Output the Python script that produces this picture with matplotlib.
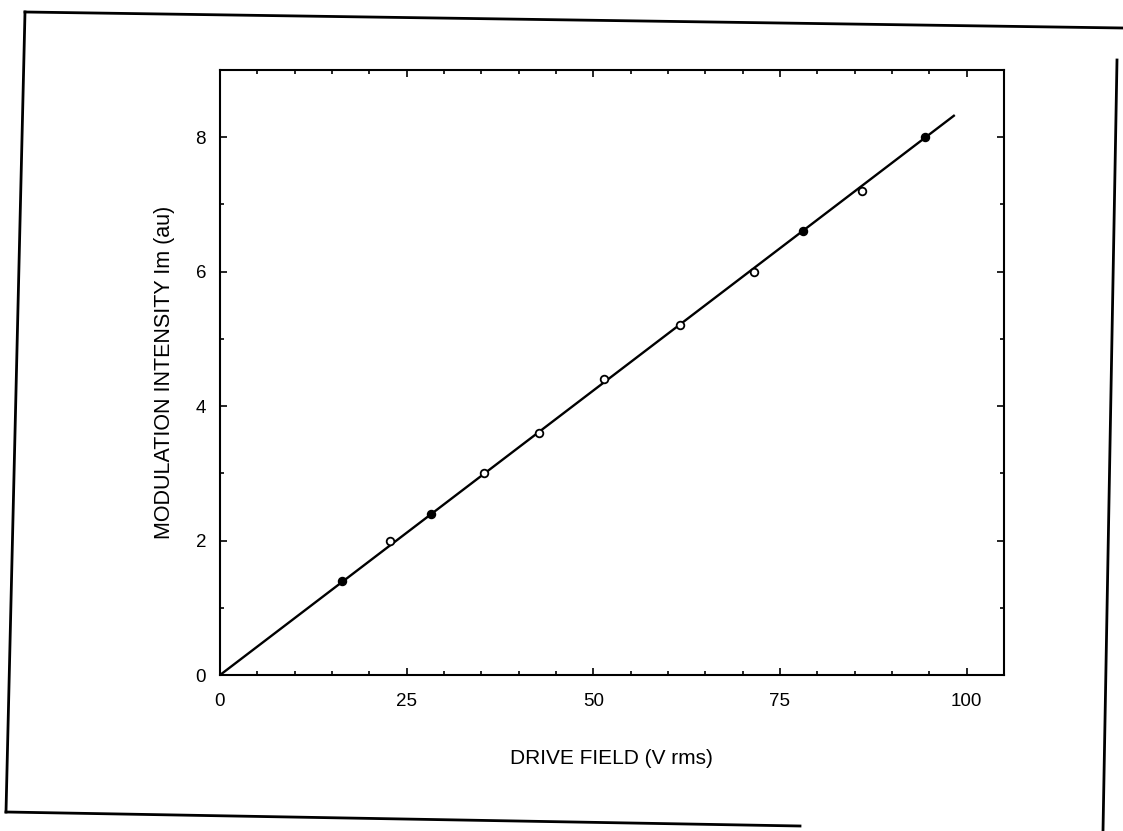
import matplotlib
matplotlib.use("Agg")
import matplotlib.pyplot as plt
from matplotlib.lines import Line2D

# measured points (drive field V rms, modulation intensity au)
field_filled = [16.3, 28.2, 78.1, 94.5]
intensity_filled = [1.40, 2.40, 6.60, 8.00]

field_open = [22.8, 35.3, 42.7, 51.5, 61.6, 71.5, 86.0]
intensity_open = [2.00, 3.00, 3.60, 4.40, 5.20, 6.00, 7.20]

# straight-line fit through the origin
fit_field = [0.0, 98.3]
fit_intensity = [0.0, 8.32]

x_ticks = [0, 25, 50, 75, 100]
y_ticks = [0, 2, 4, 6, 8]

plt.rcParams["font.family"] = ["Liberation Sans", "DejaVu Sans"]

fig = plt.figure(figsize=(11.23, 8.31), dpi=100)
ax = fig.add_axes([0.1959, 0.1877, 0.698, 0.728])

ax.plot(fit_field, fit_intensity, color="black", lw=1.7, zorder=2)
ax.plot(field_filled, intensity_filled, "o", color="black", ms=5.8, zorder=3)
ax.plot(field_open, intensity_open, "o", mfc="white", mec="black", mew=1.3,
        ms=5.5, zorder=3)

ax.set_xlim(0, 105)
ax.set_ylim(0, 9)
ax.set_xticks(x_ticks)
ax.set_yticks(y_ticks)
ax.set_xticks(range(0, 106, 5), minor=True)
ax.set_yticks(range(0, 10), minor=True)

ax.tick_params(which="both", direction="in", top=True, right=True, width=1.2)
ax.tick_params(which="major", length=5)
ax.tick_params(which="minor", length=3)
ax.tick_params(axis="x", which="major", pad=13, labelsize=13.5)
ax.tick_params(axis="y", which="major", pad=10, labelsize=13.5)
for s in ax.spines.values():
    s.set_linewidth(1.5)

ax.set_xlabel("DRIVE FIELD (V rms)", fontsize=15, labelpad=28)
ax.set_ylabel("MODULATION INTENSITY Im (au)", fontsize=15.5, labelpad=15)

# scanned page frame
W, H = 1123.0, 831.0
frame = [
    ([25, 1123], [12, 28]),     # top
    ([25, 6], [12, 812]),       # left
    ([6, 800], [812, 826]),     # bottom
    ([1117, 1103], [60, 831]),  # right
]
for xs, ys in frame:
    fig.add_artist(Line2D([x / W for x in xs], [1 - y / H for y in ys],
                          color="black", lw=2.0))

fig.savefig("out.png", dpi=100)
plt.close(fig)
